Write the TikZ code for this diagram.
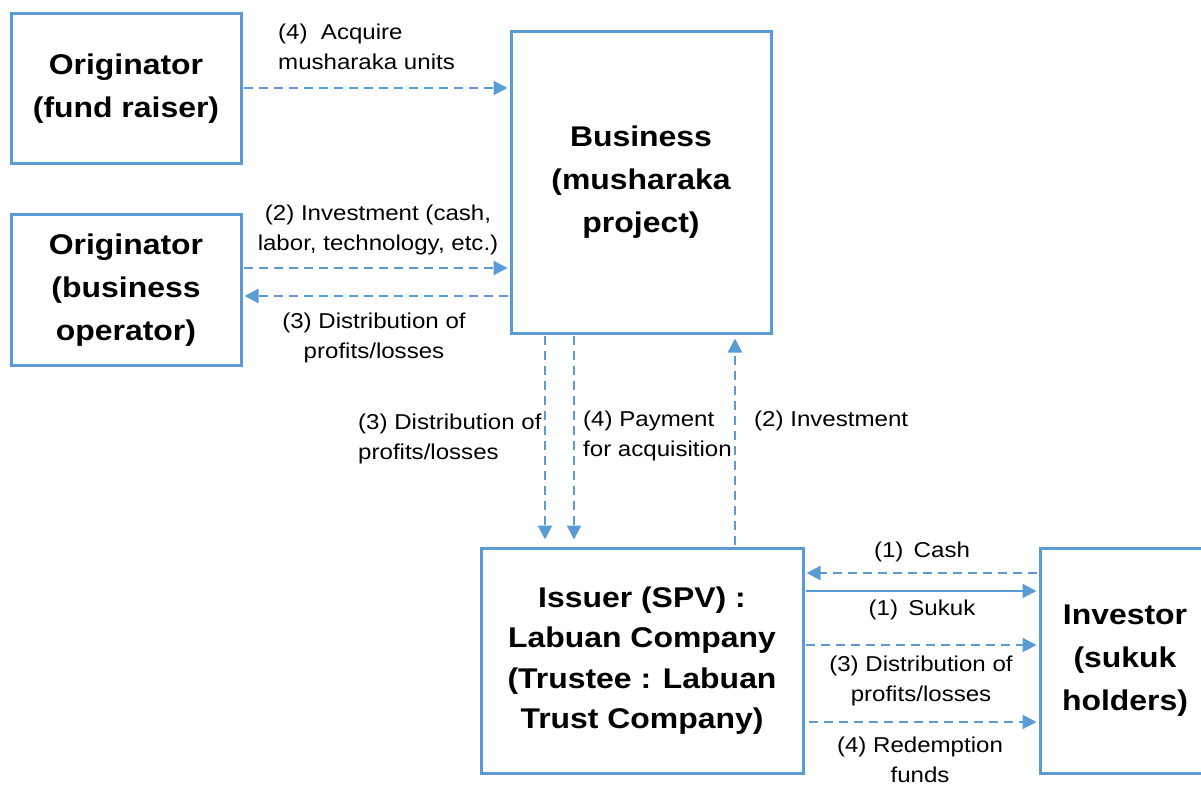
\documentclass[tikz,border=0pt]{standalone}
\usepackage{fontspec}
\setmainfont[FakeStretch=1.12]{Liberation Sans}
\usetikzlibrary{arrows.meta}
\definecolor{bl}{RGB}{91,155,213}
\begin{document}
\begin{tikzpicture}[x=1pt,y=-1pt,
 box/.style={draw=bl, line width=3pt, inner sep=0pt, align=center, font=\fontsize{28.5}{43}\bfseries\selectfont},
 lbl/.style={inner sep=0pt, font=\fontsize{21.5}{30}\selectfont},
 dsh/.style={draw=bl, line width=2.2pt, dash pattern=on 9pt off 6pt, -{Triangle[length=14pt,width=14pt]}, shorten <=1.5pt, shorten >=2pt},
 sld/.style={draw=bl, line width=2.2pt, -{Triangle[length=14pt,width=14pt]}, shorten <=1.5pt, shorten >=2pt}]
\useasboundingbox (0,0) rectangle (1201,786);
\begin{scope}
\clip (0,0) rectangle (1201,786);
\node[box, minimum width=230pt, minimum height=150pt] (o1) at (126,89) {Originator\\(fund raiser)};
\node[box, minimum width=230pt, minimum height=150pt] (o2) at (126,290) {Originator\\(business\\operator)};
\node[box, minimum width=260pt, minimum height=301pt] (biz) at (641,182.5) {Business\\(musharaka\\project)};
\node[box, minimum width=322pt, minimum height=225pt, font=\fontsize{28.5}{40.5}\bfseries\selectfont] (iss) at (642,660.5) {Issuer (SPV) :\\Labuan Company\\(Trustee : Labuan\\Trust Company)};
\node[box, minimum width=170pt, minimum height=225pt, text width=163pt] (inv) at (1125,660.5) {Investor\\(sukuk\\holders)};
\end{scope}
% connectors
\draw[dsh] (o1.east |- 0,88) -- (biz.west |- 0,88);
\draw[dsh] (o2.east |- 0,268) -- (biz.west |- 0,268);
\draw[dsh] (biz.west |- 0,296) -- (o2.east |- 0,296);
\draw[dsh, shorten >=7pt] (545,0 |- biz.south) -- (545,0 |- iss.north);
\draw[dsh, shorten >=7pt] (574,0 |- biz.south) -- (574,0 |- iss.north);
\draw[dsh, shorten >=4pt] (735,0 |- iss.north) -- (735,0 |- biz.south);
\draw[dsh] (inv.west |- 0,573) -- (iss.east |- 0,573);
\draw[sld] (iss.east |- 0,591) -- (inv.west |- 0,591);
\draw[dsh] (iss.east |- 0,645) -- (inv.west |- 0,645);
\draw[dsh, shorten <=4pt] (iss.east |- 0,722) -- (inv.west |- 0,722);
% labels
\node[lbl, anchor=west, align=left] (l1) at (278,47) {(4)\ \ Acquire\\musharaka units};
\node[lbl, align=center] (l2) at (378,229.5) {(2) Investment (cash,\\labor, technology, etc.)};
\node[lbl, align=center] (l3) at (374,337.5) {(3) Distribution of\\profits/losses};
\node[lbl, anchor=west, align=left] (l4) at (358,438.5) {(3) Distribution of\\profits/losses};
\node[lbl, anchor=west, align=left] (l5) at (583,435.5) {(4) Payment\\for acquisition};
\node[lbl, anchor=west] (l6) at (754,421) {(2) Investment};
\node[lbl] (l7) at (922,552) {(1) \,Cash};
\node[lbl] (l8) at (922,610) {(1) \,Sukuk};
\node[lbl, align=center] (l9) at (921,680.5) {(3) Distribution of\\profits/losses};
\node[lbl, align=center] (l10) at (920,760) {(4) Redemption\\funds};
\end{tikzpicture}
\end{document}
